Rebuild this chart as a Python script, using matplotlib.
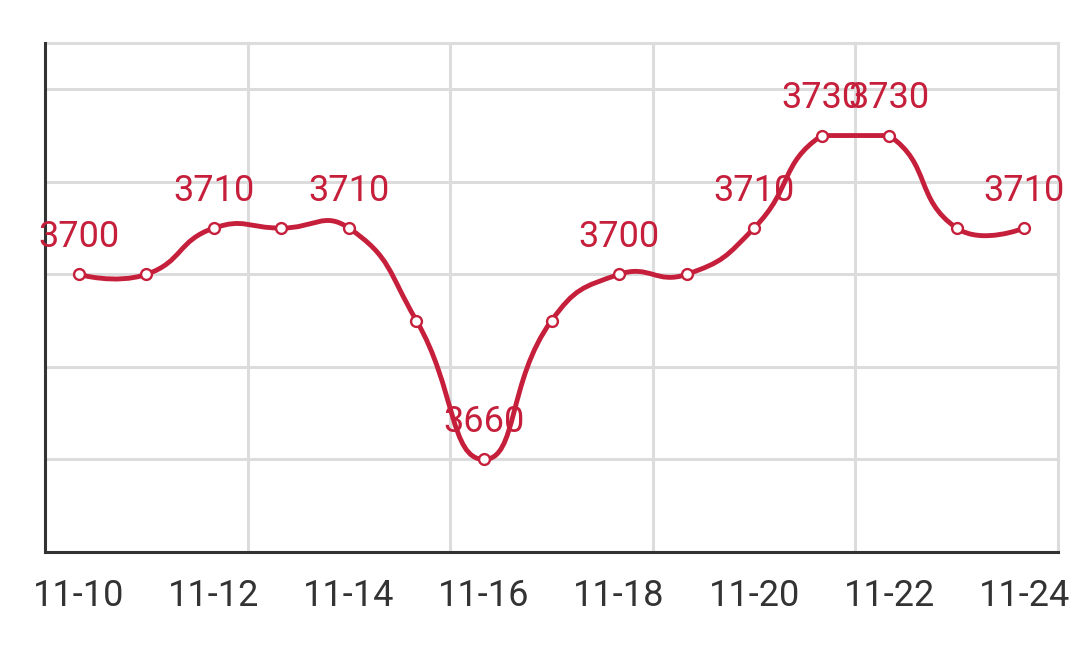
import matplotlib
matplotlib.use("Agg")
import matplotlib.pyplot as plt
import numpy as np
from matplotlib.path import Path
from matplotlib.patches import PathPatch

# ---- data ----
dates = ["11-10", "11-11", "11-12", "11-13", "11-14", "11-15", "11-16", "11-17",
         "11-18", "11-19", "11-20", "11-21", "11-22", "11-23", "11-24"]
values = [3700, 3700, 3710, 3710, 3710, 3690, 3660, 3690,
          3700, 3700, 3710, 3730, 3730, 3710, 3710]
show_label = [True, False, True, False, True, False, True, False,
              True, False, True, True, True, False, True]
tick_labels = ["11-10", "11-12", "11-14", "11-16", "11-18", "11-20", "11-22", "11-24"]
y_min, y_max = 3640, 3750
y_grid = [3660, 3680, 3700, 3720, 3740, 3750]

RED = "#c61f3b"
GRID = "#dcdcdc"
AXIS = "#333333"
FONT = ["Roboto", "DejaVu Sans"]

plt.rcParams["font.family"] = FONT

W, H = 1079, 651
fig = plt.figure(figsize=(W / 100, H / 100), dpi=100)
ax = fig.add_axes([45 / W, 1 - 552 / H, (1058 - 45) / W, (552 - 43) / H])

n = len(values)
xs = np.arange(n, dtype=float)
ys = np.array(values, dtype=float)

ax.set_xlim(-0.5, n - 0.5)
ax.set_ylim(y_min, y_max)

# grid
for gy in y_grid:
    ax.axhline(gy, color=GRID, lw=2.2, zorder=1, clip_on=False)
for gx in np.arange(-0.5 + 3, n, 3):
    ax.axvline(gx, color=GRID, lw=2.2, zorder=1, clip_on=False)

for s in ["top", "right"]:
    ax.spines[s].set_visible(False)
for s in ["left", "bottom"]:
    ax.spines[s].set_color(AXIS)
    ax.spines[s].set_linewidth(2.2)
    ax.spines[s].set_zorder(2)

ax.set_yticks([])
ax.set_xticks(xs[::2])
ax.set_xticklabels(tick_labels)
ax.tick_params(axis="x", length=0, pad=19, labelsize=26, labelcolor=AXIS)

# ---- echarts-like smooth curve (computed in display space) ----
pts = ax.transData.transform(np.column_stack([xs, ys]))
smooth = 0.5
bmin = pts.min(axis=0)
bmax = pts.max(axis=0)
verts = [pts[0]]
codes = [Path.MOVETO]
cp0 = pts[0].copy()
for i in range(1, n):
    p = pts[i]
    prev = pts[i - 1]
    if i < n - 1:
        nxt = pts[i + 1]
        v = nxt - prev
        d0 = np.linalg.norm(p - prev)
        d1 = np.linalg.norm(nxt - p)
        r = d1 / (d0 + d1)
        cp1 = p - v * smooth * (1 - r)
        next_cp0 = p + v * smooth * r
    else:
        cp1 = p.copy()
        next_cp0 = p.copy()
    c0 = np.clip(cp0, bmin, bmax)
    c1 = np.clip(cp1, bmin, bmax)
    verts += [c0, c1, p]
    codes += [Path.CURVE4] * 3
    cp0 = next_cp0
verts = ax.transData.inverted().transform(np.array(verts))
patch = PathPatch(Path(verts, codes), fill=False, edgecolor=RED, lw=3.5,
                  capstyle="round", joinstyle="round", zorder=3)
ax.add_patch(patch)

ax.plot(xs, ys, linestyle="none", marker="o", markersize=7.8,
        markerfacecolor="white", markeredgecolor=RED, markeredgewidth=1.7, zorder=4)

for x, y, sh in zip(xs, ys, show_label):
    if sh:
        ax.annotate(f"{int(y)}", (x, y), xytext=(0, 19.5), textcoords="offset points",
                    ha="center", va="baseline", color=RED, fontsize=26, zorder=5,
                    annotation_clip=False)

fig.savefig("out.png", dpi=100, facecolor="white")
